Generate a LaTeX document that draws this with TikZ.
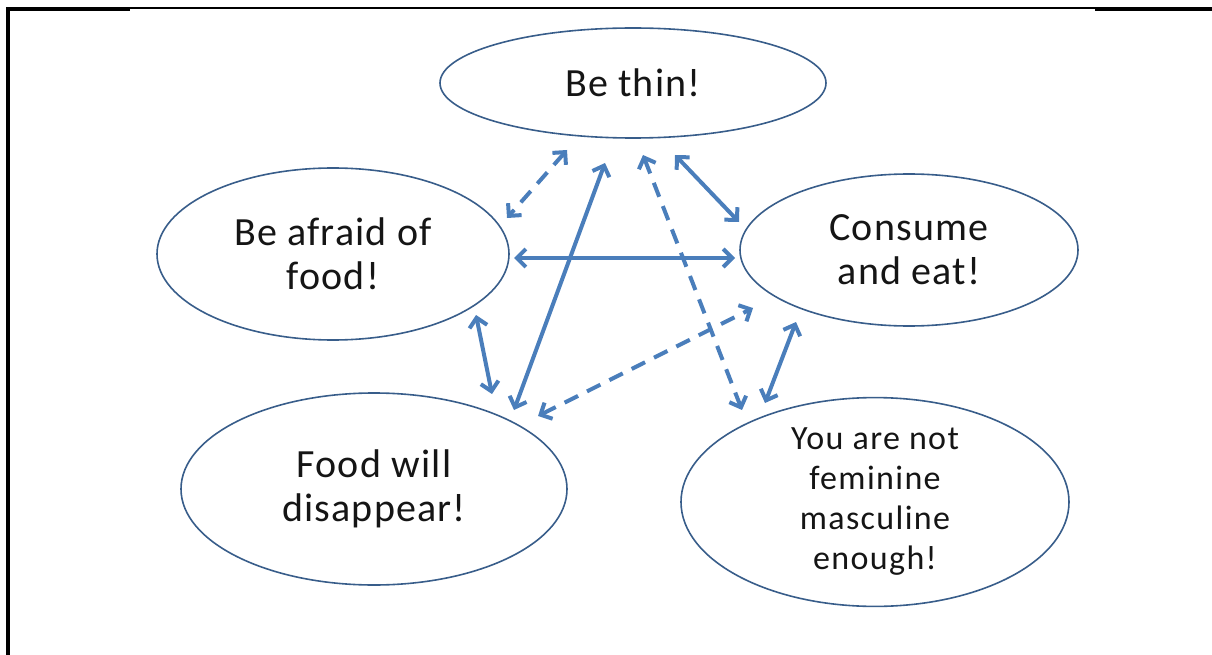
\documentclass[tikz,border=0pt]{standalone}
\usepackage{fontspec}
\setmainfont{Carlito}
\usetikzlibrary{arrows.meta,shapes.geometric}
\definecolor{arrowblue}{HTML}{4A7EBB}
\definecolor{edgeblue}{HTML}{385D8A}
\definecolor{textdark}{HTML}{151515}
\tikzset{
  bubble/.style={ellipse, draw=edgeblue, line width=1.6pt, inner sep=0pt, text=textdark, align=center},
  link/.style={draw=arrowblue, line width=4pt, {Straight Barb[length=9pt,width=18pt]}-{Straight Barb[length=9pt,width=18pt]}},
  dlink/.style={link, dash pattern=on 15pt off 10pt},
  bigtext/.style={font=\fontsize{40}{44}\selectfont\addfontfeatures{LetterSpace=3}},
  smalltext/.style={font=\fontsize{34}{40}\selectfont\addfontfeatures{LetterSpace=4}},
}
\begin{document}
\begin{tikzpicture}[x=1pt,y=-1pt]
\useasboundingbox (0,0) rectangle (1212,655);
% frame
\draw[line width=3.5pt] (8,655) -- (8,9) -- (130,9);
\draw[line width=1.4pt] (130,8) -- (1095,8);
\draw[line width=3.5pt] (1095,9) -- (1212,9);
% nodes
\node[bubble, bigtext, minimum width=386pt, minimum height=110pt] (thin) at (633,83) {Be thin!};
\node[bubble, bigtext, minimum width=352pt, minimum height=172pt] (afraid) at (333,254) {Be afraid of\\food!};
\node[bubble, bigtext, minimum width=338pt, minimum height=152pt] (consume) at (909,250) {Consume\\and eat!};
\node[bubble, bigtext, minimum width=386pt, minimum height=192pt] (food) at (374,489) {Food will\\disappear!};
\node[bubble, smalltext, minimum width=388pt, minimum height=192pt] (fem) at (875,502) {You are not\\feminine\\masculine\\enough!};
% connector end points
\coordinate (t1) at (567,150);
\coordinate (a1) at (507,218);
\coordinate (t2) at (605,163);
\coordinate (f2) at (514,410);
\coordinate (t3) at (643,155);
\coordinate (m3) at (742,410);
\coordinate (t4) at (675,155);
\coordinate (c4) at (739,222);
\coordinate (a5) at (514,258);
\coordinate (c5) at (735,258);
\coordinate (a6) at (476,315);
\coordinate (f6) at (492,394);
\coordinate (f7) at (538,416);
\coordinate (c7) at (753,308);
\coordinate (c8) at (796,322);
\coordinate (m8) at (765,403);
% connectors
\draw[dlink] (t1) -- (a1);
\draw[link] (t2) -- (f2);
\draw[dlink] (t3) -- (m3);
\draw[link] (t4) -- (c4);
\draw[link] (a5) -- (c5);
\draw[link] (a6) -- (f6);
\draw[dlink] (f7) -- (c7);
\draw[link] (c8) -- (m8);
\end{tikzpicture}
\end{document}
